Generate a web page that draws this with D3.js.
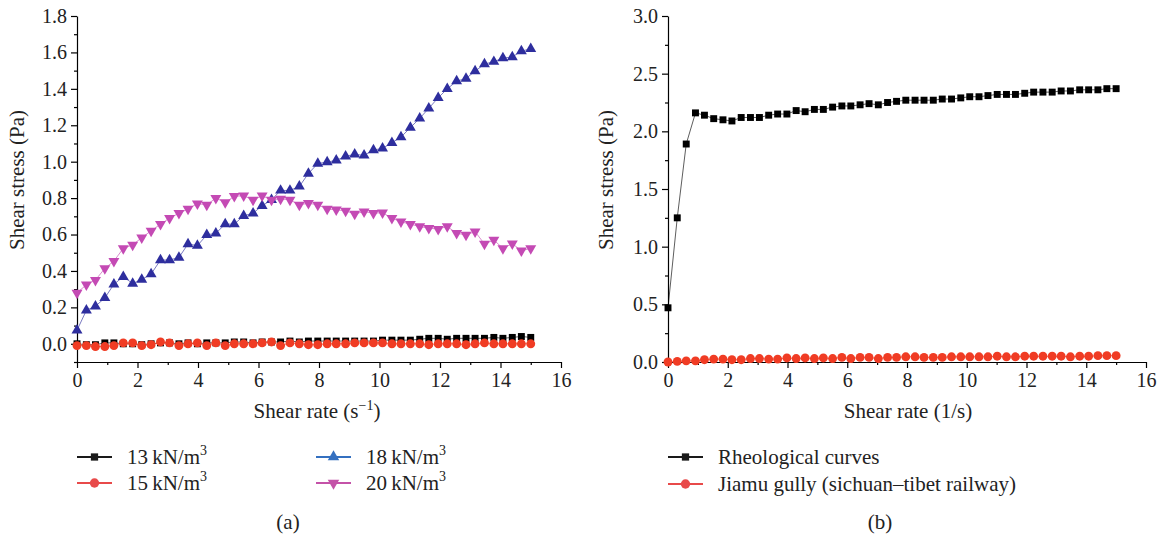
<!DOCTYPE html>
<html>
<head>
<meta charset="utf-8">
<script src="https://cdn.jsdelivr.net/npm/d3@7"></script>
<style>
  body { margin: 0; background: #fff; }
  svg { font-family: "Liberation Serif", "DejaVu Serif", serif; }
  .axis path, .axis line { stroke: #000; stroke-width: 1.2; }
  .axis text { font-size: 20px; fill: #222; font-family: "Liberation Serif", serif; }
</style>
</head>
<body>
<div id="visual"></div>
<script>
// shear rate (1/s), same sampling for every curve
var rate = [0, 0.31, 0.61, 0.92, 1.22, 1.53, 1.84, 2.14, 2.45, 2.76,
    3.06, 3.37, 3.67, 3.98, 4.29, 4.59, 4.9, 5.2, 5.51, 5.82,
    6.12, 6.43, 6.73, 7.04, 7.35, 7.65, 7.96, 8.27, 8.57, 8.88,
    9.18, 9.49, 9.8, 10.1, 10.41, 10.71, 11.02, 11.33, 11.63, 11.94,
    12.24, 12.55, 12.86, 13.16, 13.47, 13.78, 14.08, 14.39, 14.69, 15];

// (a) shear stress for the four unit weights
var s13 = [0, -0.005, -0.005, 0.005, 0.005, 0, 0, -0.005, 0, 0.005,
    0.005, 0, 0.005, 0, 0.005, 0.005, 0.005, 0.01, 0.01, 0.005,
    0.01, 0.01, 0.01, 0.015, 0.01, 0.015, 0.015, 0.015, 0.015, 0.015,
    0.015, 0.015, 0.015, 0.02, 0.02, 0.02, 0.02, 0.025, 0.03, 0.03,
    0.025, 0.03, 0.03, 0.03, 0.03, 0.035, 0.03, 0.035, 0.04, 0.035];
var s15 = [-0.01, -0.01, -0.015, -0.015, -0.01, 0.005, 0.005, -0.01, -0.005, 0.01,
    0.005, -0.01, 0, 0.005, -0.01, 0.005, -0.01, 0, 0, 0,
    0.005, 0.01, -0.01, 0.005, 0, -0.005, -0.005, 0, 0, 0,
    0.005, 0.005, 0.005, 0.005, 0, 0, 0, 0, -0.005, 0,
    0, 0, -0.005, 0, 0.005, 0, 0, 0, 0, 0];
var s18 = [0.074, 0.184, 0.206, 0.252, 0.327, 0.368, 0.331, 0.353, 0.383, 0.46,
    0.46, 0.474, 0.548, 0.539, 0.598, 0.607, 0.657, 0.657, 0.703, 0.717,
    0.758, 0.79, 0.842, 0.842, 0.864, 0.935, 0.99, 0.998, 1.007, 1.03,
    1.04, 1.035, 1.064, 1.073, 1.104, 1.135, 1.187, 1.238, 1.293, 1.351,
    1.40, 1.442, 1.457, 1.497, 1.536, 1.549, 1.569, 1.575, 1.607, 1.62];
var s20 = [0.28, 0.324, 0.35, 0.414, 0.454, 0.524, 0.543, 0.583, 0.62, 0.657,
    0.69, 0.717, 0.74, 0.77, 0.763, 0.8, 0.776, 0.81, 0.813, 0.79,
    0.813, 0.79, 0.796, 0.79, 0.763, 0.772, 0.763, 0.74, 0.736, 0.73,
    0.713, 0.726, 0.717, 0.72, 0.69, 0.67, 0.657, 0.644, 0.635, 0.63,
    0.644, 0.607, 0.598, 0.616, 0.548, 0.57, 0.524, 0.55, 0.511, 0.524];

// (b) rheological curve vs Jiamu gully
var rheo = [0.47, 1.25, 1.89, 2.16, 2.14, 2.11, 2.10, 2.09, 2.12, 2.12,
    2.12, 2.14, 2.15, 2.15, 2.18, 2.17, 2.19, 2.19, 2.21, 2.22,
    2.22, 2.23, 2.24, 2.23, 2.25, 2.26, 2.27, 2.27, 2.27, 2.27,
    2.28, 2.28, 2.29, 2.30, 2.30, 2.31, 2.32, 2.32, 2.32, 2.33,
    2.34, 2.34, 2.34, 2.35, 2.35, 2.36, 2.36, 2.36, 2.37, 2.37];
var jiamu = [0, 0.005, 0.01, 0.01, 0.02, 0.025, 0.025, 0.02, 0.02, 0.03,
    0.03, 0.025, 0.025, 0.035, 0.03, 0.035, 0.03, 0.035, 0.03, 0.04,
    0.03, 0.04, 0.04, 0.03, 0.04, 0.04, 0.045, 0.045, 0.04, 0.04,
    0.04, 0.045, 0.045, 0.045, 0.045, 0.045, 0.05, 0.045, 0.045, 0.05,
    0.05, 0.05, 0.05, 0.05, 0.045, 0.05, 0.05, 0.055, 0.055, 0.055];

var xTicks = [0, 2, 4, 6, 8, 10, 12, 14, 16];
var yTicksA = [0, 0.2, 0.4, 0.6, 0.8, 1.0, 1.2, 1.4, 1.6, 1.8];
var yTicksB = [0, 0.5, 1.0, 1.5, 2.0, 2.5, 3.0];

var seriesA = [
    {name: "13", values: s13, color: "#000000", legend: "#1a1a1a", sym: d3.symbolSquare, size: 48, rot: 0},
    {name: "15", values: s15, color: "#f03c24", legend: "#e84a4a", sym: d3.symbolCircle, size: 62, rot: 0},
    {name: "18", values: s18, color: "#2e2e9e", legend: "#3470c0", sym: d3.symbolTriangle, size: 52, rot: 0},
    {name: "20", values: s20, color: "#c44ab4", legend: "#c452a8", sym: d3.symbolTriangle, size: 52, rot: 180}
];
var seriesB = [
    {name: "Rheological curves", values: rheo, color: "#000000", legend: "#1a1a1a", sym: d3.symbolSquare, size: 48, rot: 0},
    {name: "Jiamu gully (sichuan\u2013tibet railway)", values: jiamu, color: "#f03c24", legend: "#e84a4a", sym: d3.symbolCircle, size: 62, rot: 0}
];

var W = 1159, H = 534;
var svg = d3.select("#visual").append("svg")
    .attr("width", W)
    .attr("height", H);

function drawPanel(opt) {
    var x = d3.scaleLinear().domain([0, 16]).range([opt.left, opt.left + opt.width]);
    var y = d3.scaleLinear().domain(opt.yDomain).range([362, 16]);
    var g = svg.append("g");

    // minor ticks first
    g.append("g").attr("class", "axis")
        .attr("transform", "translate(0,362)")
        .call(d3.axisBottom(x).tickValues(d3.range(1, 16, 2)).tickSize(3).tickFormat(""))
        .select(".domain").remove();
    g.append("g").attr("class", "axis")
        .attr("transform", "translate(" + opt.left + ",0)")
        .call(d3.axisLeft(y).tickValues(opt.yMinor).tickSize(3).tickFormat(""))
        .select(".domain").remove();

    g.append("g").attr("class", "axis")
        .attr("transform", "translate(0,362)")
        .call(d3.axisBottom(x).tickValues(xTicks).tickSize(6).tickSizeOuter(0).tickPadding(5).tickFormat(d3.format("d")));
    g.append("g").attr("class", "axis")
        .attr("transform", "translate(" + opt.left + ",0)")
        .call(d3.axisLeft(y).tickValues(opt.yTicks).tickSize(6).tickSizeOuter(0).tickPadding(4).tickFormat(d3.format(".1f")));

    var line = d3.line()
        .x(function (d) { return x(d[0]); })
        .y(function (d) { return y(d[1]); });

    opt.series.forEach(function (s) {
        var pts = rate.map(function (r, i) { return [r, s.values[i]]; });
        g.append("path")
            .attr("d", line(pts))
            .attr("fill", "none")
            .attr("stroke", s.color)
            .attr("stroke-width", 0.8)
            .attr("opacity", 0.8);
        g.selectAll(null)
            .data(pts)
            .enter().append("path")
            .attr("d", d3.symbol().type(s.sym).size(s.size))
            .attr("transform", function (d) {
                return "translate(" + x(d[0]) + "," + y(d[1]) + ") rotate(" + s.rot + ")";
            })
            .attr("fill", s.color);
    });

    // axis titles
    var xt = g.append("text")
        .attr("x", opt.left + 240)
        .attr("y", 418)
        .attr("text-anchor", "middle")
        .style("font-size", "21px")
        .attr("fill", "#222");
    xt.append("tspan").text(opt.xTitle[0]);
    if (opt.xTitle[1]) {
        xt.append("tspan").attr("dy", -8).style("font-size", "14px").text(opt.xTitle[1]);
        xt.append("tspan").attr("dy", 8).text(")");
    }
    g.append("text")
        .attr("transform", "translate(" + opt.ytX + ",180) rotate(-90)")
        .attr("text-anchor", "middle")
        .style("font-size", "21px")
        .attr("fill", "#222")
        .text("Shear stress (Pa)");

    // legend
    opt.series.forEach(function (s, i) {
        var col = opt.legendCols[i];
        var lx = col[0], ly = col[1];
        g.append("line")
            .attr("x1", lx).attr("x2", lx + 35)
            .attr("y1", ly).attr("y2", ly)
            .attr("stroke", s.legend).attr("stroke-width", 2);
        g.append("path")
            .attr("d", d3.symbol().type(s.sym).size(s.size * 1.1))
            .attr("transform", "translate(" + (lx + 17.5) + "," + ly + ") rotate(" + s.rot + ")")
            .attr("fill", s.legend);
        var t = g.append("text")
            .attr("x", lx + 50)
            .attr("y", ly + 7)
            .style("font-size", "21px")
            .attr("fill", "#222");
        if (opt.unitLegend) {
            t.append("tspan").text(s.name + "\u2009kN/m");
            t.append("tspan").attr("dy", -9).style("font-size", "14px").text("3");
        } else {
            t.text(s.name);
        }
    });

    g.append("text")
        .attr("x", opt.left + opt.capX)
        .attr("y", 529)
        .attr("text-anchor", "middle")
        .style("font-size", "21px")
        .attr("fill", "#222")
        .text(opt.caption);
}

drawPanel({
    left: 77,
    width: 484,
    yDomain: [-0.1, 1.8],
    yTicks: yTicksA,
    yMinor: [-0.1, 0.1, 0.3, 0.5, 0.7, 0.9, 1.1, 1.3, 1.5, 1.7],
    series: seriesA,
    xTitle: ["Shear rate (s", "\u22121"],
    ytX: 24,
    unitLegend: true,
    legendCols: [[77, 457], [77, 483], [316, 457], [316, 483]],
    caption: "(a)",
    capX: 211
});

drawPanel({
    left: 668,
    width: 478,
    yDomain: [0, 3],
    yTicks: yTicksB,
    yMinor: [0.25, 0.75, 1.25, 1.75, 2.25, 2.75],
    series: seriesB,
    xTitle: ["Shear rate (1/s)"],
    ytX: 613,
    unitLegend: false,
    legendCols: [[668, 457], [668, 484]],
    caption: "(b)",
    capX: 212
});
</script>
</body>
</html>
